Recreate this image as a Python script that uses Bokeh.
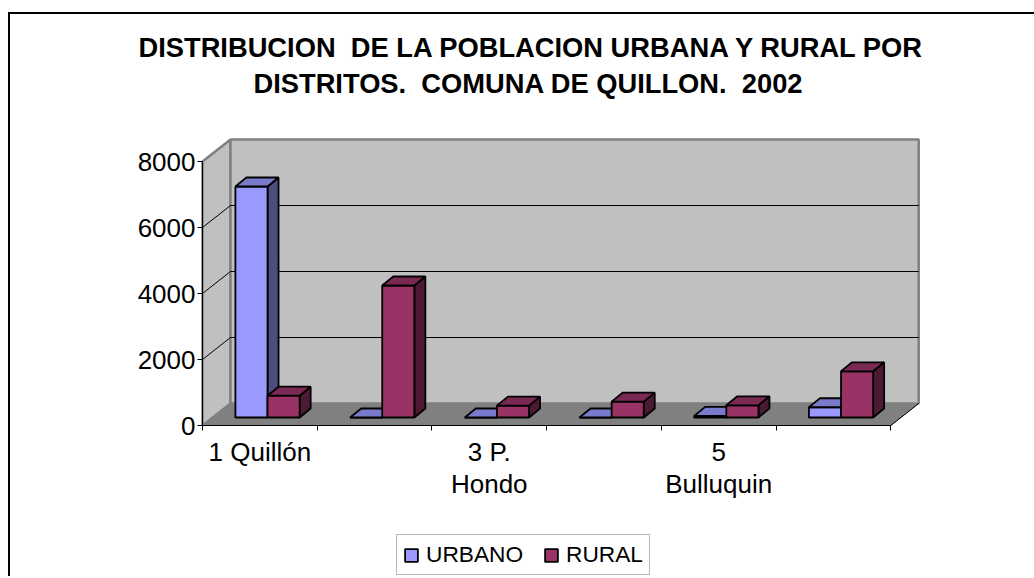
from bokeh.plotting import figure
from bokeh.models import Range1d, FixedTicker, Legend, LegendItem, Label
from bokeh.embed import file_html
from bokeh.resources import INLINE

# ---------------- data ----------------
categories = ["1 Quillón", "2", "3 P.\nHondo", "4", "5\nBulluquin", "6"]
label_shown = [True, False, True, False, True, False]
series_names = ["URBANO", "RURAL"]
urbano = [7000, 0, 0, 0, 50, 310]
rural = [660, 4000, 360, 480, 370, 1400]
y_ticks = [0, 2000, 4000, 6000, 8000]
title_lines = ["DISTRIBUCION \u00a0DE LA POBLACION URBANA Y RURAL POR",
               "DISTRITOS. \u00a0COMUNA DE QUILLON. \u00a02002"]

# ---------------- layout / styles ----------------
W, H = 1030, 564
AXL = 192            # px from canvas left to the value axis
AX0 = 411            # px from canvas top down to the value 0
SX = 114.7           # px per category
SY = 0.033           # px per person
FONT = "Liberation Sans"

n = len(categories)


def px_x(dx):        # horizontal pixel distance from the y axis -> data
    return dx / SX


def px_y(dy):        # vertical pixel distance above the x axis -> data
    return dy / SY


x_start, x_end = -px_x(AXL), px_x(W - AXL)
y_start, y_end = -px_y(H - AX0), px_y(AX0)

DXF, DYF = px_x(28), px_y(22)     # floor depth
BDX, BDY = px_x(11), px_y(9)      # bar depth
BASE = px_y(8)
BW = 0.28
OFFS = [0.287, 0.567]
front_cols = ["#9999FF", "#993366"]
top_cols = ["#7A7ACC", "#7A2952"]
side_cols = ["#4D4D80", "#4D1A33"]

p = figure(width=W, height=H, output_backend="svg", toolbar_location=None,
           x_range=Range1d(x_start, x_end), y_range=Range1d(y_start, y_end),
           min_border_left=0, min_border_right=0, min_border_top=0,
           min_border_bottom=0, outline_line_color=None,
           background_fill_color="white", border_fill_color="white")
p.styles = {"border-style": "solid", "border-color": "black",
            "border-width": "2px 0px 0px 2px",
            "margin-top": "12px", "margin-left": "8px"}
p.xgrid.visible = False
p.ygrid.visible = False

ymax = y_ticks[-1]
# walls
p.patch([0, DXF, DXF, 0], [0, DYF, ymax + DYF, ymax], fill_color="#C0C0C0",
        line_color="#808080", line_width=2.5)
p.patch([DXF, n + DXF, n + DXF, DXF], [DYF, DYF, ymax + DYF, ymax + DYF],
        fill_color="#C0C0C0", line_color="#808080", line_width=2.5)
# floor
p.patch([0, n, n + DXF, DXF], [0, 0, DYF, DYF], fill_color="#808080",
        line_color="#808080", line_width=1)
# gridlines
mid = y_ticks[1:-1]
p.segment(x0=[DXF] * len(mid), y0=[v + DYF for v in mid],
          x1=[n + DXF] * len(mid), y1=[v + DYF for v in mid],
          line_color="black", line_width=1)
p.segment(x0=[0] * len(mid), y0=mid, x1=[DXF] * len(mid),
          y1=[v + DYF for v in mid], line_color="black", line_width=1)
p.segment(x0=[n], y0=[0], x1=[n + DXF], y1=[DYF], line_color="black",
          line_width=1)

# bars (per category: side, front, top)
bar_renderers = []
for s, vals in enumerate([urbano, rural]):
    xs, ys, cols = [], [], []
    for i, v in enumerate(vals):
        x0 = i + OFFS[s]
        y0, y1 = BASE, BASE + v
        xs.append([x0 + BW, x0 + BW + BDX, x0 + BW + BDX, x0 + BW])
        ys.append([y0, y0 + BDY, y1 + BDY, y1])
        cols.append(side_cols[s])
        xs.append([x0, x0 + BW, x0 + BW, x0])
        ys.append([y0, y0, y1, y1])
        cols.append(front_cols[s])
        xs.append([x0, x0 + BW, x0 + BW + BDX, x0 + BDX])
        ys.append([y1, y1, y1 + BDY, y1 + BDY])
        cols.append(top_cols[s])
    bar_renderers.append(p.patches(xs=xs, ys=ys, fill_color=cols,
                                   line_color="black", line_width=1.8))

# axes
ya = p.yaxis[0]
ya.fixed_location = 0
ya.ticker = FixedTicker(ticks=y_ticks)
ya.bounds = (y_ticks[0], y_ticks[-1])
ya.major_tick_out = 5
ya.major_tick_in = 0
ya.minor_tick_out = 0
ya.minor_tick_in = 0
ya.major_label_standoff = 2
ya.axis_line_color = "black"
ya.major_tick_line_color = "black"
ya.major_label_text_font = FONT
ya.major_label_text_font_size = "26px"
ya.major_label_text_color = "black"

xa = p.xaxis[0]
xa.fixed_location = 0
xa.ticker = FixedTicker(ticks=[i + 0.5 for i in range(n)],
                        minor_ticks=list(range(n + 1)))
xa.bounds = (0, n)
xa.major_tick_out = 0
xa.major_tick_in = 0
xa.minor_tick_out = 5
xa.minor_tick_in = 0
xa.minor_tick_line_color = "black"
xa.axis_line_color = "black"
xa.major_label_standoff = 6
xa.major_label_overrides = {i + 0.5: (c if sh else "")
                            for i, (c, sh) in enumerate(zip(categories, label_shown))}
xa.major_label_text_font = FONT
xa.major_label_text_font_size = "26px"
xa.major_label_text_color = "black"
xa.major_label_text_line_height = 1.07

# legend (glyph taken from each series' first front face)
items = [LegendItem(label=name, renderers=[r], index=1)
         for name, r in zip(series_names, bar_renderers)]
legend = Legend(items=items, orientation="horizontal",
                location=(AXL + 194, 3),
                label_text_font=FONT, label_text_font_size="22.7px",
                label_text_color="black", padding=6, spacing=20,
                glyph_width=16, glyph_height=16, label_standoff=7,
                label_height=25, margin=0, border_line_color="#707070",
                border_line_width=1.2, background_fill_color="white",
                background_fill_alpha=1)
p.add_layout(legend, "center")

# title: two centred lines
for line, cx, rise in [(title_lines[0], 329.5, 378), (title_lines[1], 326, 342)]:
    p.add_layout(Label(x=px_x(cx), y=px_y(rise), text=line,
                       text_align="center", text_baseline="alphabetic",
                       text_font=FONT, text_font_size="27.3px",
                       text_font_style="bold", text_color="black"))

open("out.html", "w").write(file_html(p, INLINE))
